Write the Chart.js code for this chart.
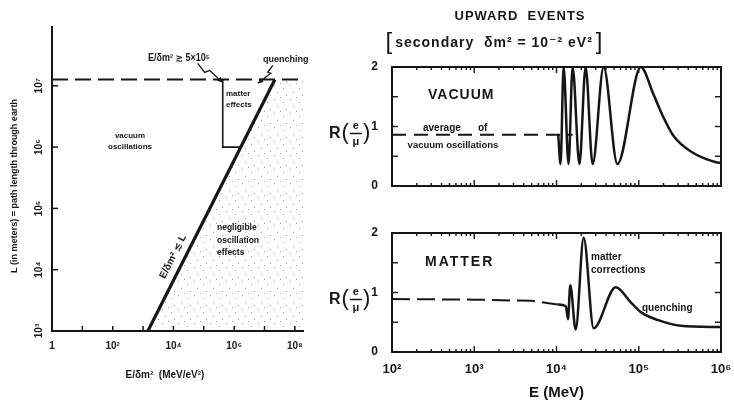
<!DOCTYPE html>
<html>
<head>
<meta charset="utf-8">
<script src="https://cdn.jsdelivr.net/npm/chart.js@4.4.0/dist/chart.umd.min.js"></script>
<style>
  body { margin: 0; background: #fff; }
  #wrap { position: relative; width: 734px; height: 406px; }
  canvas { position: absolute; left: 0; top: 0; }
</style>
</head>
<body>
<div id="wrap">
  <canvas id="leftChart" width="734" height="406"></canvas>
  <canvas id="vacuumChart" width="734" height="406"></canvas>
  <canvas id="matterChart" width="734" height="406"></canvas>
</div>
<script>
// Left panel: L vs E/dm2
const leftXTicks = [1, 1e2, 1e4, 1e6, 1e8];
const leftXLabels = ["1", "10²", "10⁴", "10⁶", "10⁸"];
const leftYTicks = [1e3, 1e4, 1e5, 1e6, 1e7];
const leftYLabels = ["10³", "10⁴", "10⁵", "10⁶", "10⁷"];
const earthE = [1, 1.85e8];
const earthL = [1.27e7, 1.27e7];
const limitE = [1.44e3, 2.2e7];
const limitL = [1e3, 1.27e7];
const boxE = [4.2e5, 4.2e5, 1.52e6];
const boxL = [1.27e7, 1e6, 1e6];
const shadeE = [1.44e3, 2.2e7, 1.85e8];
const shadeL = [1e3, 1.27e7, 1.27e7];

// Right panels: R(e/mu) vs E
const energyTicks = [1e2, 1e3, 1e4, 1e5, 1e6];
const energyLabels = ["10²", "10³", "10⁴", "10⁵", "10⁶"];
const ratioTicks = [0, 1, 2];
const ratioLabels = ["0", "1", "2"];
const ratioMarks = [0, 0.5, 1, 1.5, 2];

const vacAvgE = [1e2, 1.57e4];
const vacAvgR = [0.86, 0.86];
const vacE = [1.05e4, 1.12e4, 1.22e4, 1.40e4, 1.57e4, 1.90e4, 2.26e4, 2.75e4, 3.74e4, 5.5e4, 1.06e5, 1.51e5, 2.0e5, 2.68e5, 4.3e5, 8.7e5, 1e6];
const vacR = [0.86, 0.37, 2.0, 0.37, 2.0, 0.37, 2.0, 0.37, 2.0, 0.37, 2.0, 1.54, 1.15, 0.83, 0.58, 0.40, 0.39];

const matDashE = [1e2, 1e3, 5e3, 1.03e4];
const matDashR = [0.89, 0.88, 0.86, 0.80];
const matE = [1.03e4, 1.3e4, 1.38e4, 1.47e4, 1.71e4, 2.14e4, 2.83e4, 5.25e4, 7.96e4, 1.06e5, 1.69e5, 3.25e5, 1e6];
const matR = [0.80, 0.77, 0.55, 1.12, 0.38, 1.92, 0.40, 1.09, 0.84, 0.67, 0.54, 0.44, 0.42];

const INK = "#161616";
const FONT = "'Liberation Sans', 'DejaVu Sans', Arial, sans-serif";
Chart.defaults.font.family = FONT;
Chart.defaults.font.weight = "bold";
Chart.defaults.color = INK;

function xy(xs, ys) {
  return xs.map((x, i) => ({ x: x, y: ys[i] }));
}

function txt(ctx, s, x, y, size, align, maxW) {
  ctx.font = "bold " + size + "px " + FONT;
  ctx.textAlign = align || "left";
  ctx.textBaseline = "middle";
  if (maxW) ctx.fillText(s, x, y, maxW);
  else ctx.fillText(s, x, y);
}

function seg(ctx, x1, y1, x2, y2) {
  ctx.beginPath();
  ctx.moveTo(x1, y1);
  ctx.lineTo(x2, y2);
  ctx.stroke();
}

// zig-zag pointer ending in a small arrow head
function bolt(ctx, pts) {
  ctx.beginPath();
  ctx.moveTo(pts[0][0], pts[0][1]);
  for (let i = 1; i < pts.length; i++) ctx.lineTo(pts[i][0], pts[i][1]);
  ctx.stroke();
  const a = pts[pts.length - 2], b = pts[pts.length - 1];
  const ang = Math.atan2(b[1] - a[1], b[0] - a[0]);
  ctx.beginPath();
  ctx.moveTo(b[0], b[1]);
  ctx.lineTo(b[0] - 6 * Math.cos(ang - 0.45), b[1] - 6 * Math.sin(ang - 0.45));
  ctx.lineTo(b[0] - 6 * Math.cos(ang + 0.45), b[1] - 6 * Math.sin(ang + 0.45));
  ctx.closePath();
  ctx.fill();
}

// sparse dots, like the shaded region of the print
function stipple() {
  const c = document.createElement("canvas");
  c.width = 16; c.height = 14;
  const g = c.getContext("2d");
  g.fillStyle = "rgba(40,40,40,0.45)";
  [[2, 1], [11, 4], [5, 8], [14, 11], [8, 13]].forEach(p => g.fillRect(p[0], p[1], 1, 1));
  return g.createPattern(c, "repeat");
}

const leftDecor = {
  id: "leftDecor",
  afterDraw(chart) {
    const ctx = chart.ctx, a = chart.chartArea;
    const xs = chart.scales.x, ys = chart.scales.y;
    ctx.save();
    ctx.strokeStyle = INK;
    ctx.fillStyle = INK;
    ctx.lineWidth = 1.5;
    leftYTicks.forEach(v => {
      const py = ys.getPixelForValue(v);
      seg(ctx, a.left, py, a.left + 6, py);
    });
    for (let k = 0; k <= 8; k++) {
      const px = xs.getPixelForValue(Math.pow(10, k));
      seg(ctx, px, a.bottom, px, a.bottom - 5);
    }

    // axis titles
    txt(ctx, "E/δm²  (MeV/eV²)", 165, 375, 10, "center");
    ctx.save();
    ctx.translate(15, 186);
    ctx.rotate(-Math.PI / 2);
    txt(ctx, "L (in meters) = path length through earth", 0, 0, 9, "center");
    ctx.restore();

    // region labels
    txt(ctx, "vacuum", 130, 136, 8, "center");
    txt(ctx, "oscillations", 130, 147, 8, "center");
    txt(ctx, "matter", 226, 94, 8, "left");
    txt(ctx, "effects", 226, 105, 8, "left");
    txt(ctx, "negligible", 217, 228, 8.5, "left");
    txt(ctx, "oscillation", 217, 241, 8.5, "left");
    txt(ctx, "effects", 217, 253, 8.5, "left");
    txt(ctx, "E/δm² ≳ 5×10⁵", 148, 58, 10, "left", 62);
    txt(ctx, "quenching", 263, 60, 9, "left");

    // pointers
    ctx.lineWidth = 1.3;
    const t1 = [xs.getPixelForValue(boxE[0]), ys.getPixelForValue(earthL[0]) + 3];
    bolt(ctx, [[t1[0] - 25, t1[1] - 19], [t1[0] - 18, t1[1] - 10], [t1[0] - 13, t1[1] - 12], t1]);
    const t2 = [xs.getPixelForValue(6e6), ys.getPixelForValue(1.1e7)];
    bolt(ctx, [[t2[0] + 15, t2[1] - 18], [t2[0] + 10, t2[1] - 11], [t2[0] + 13, t2[1] - 10], t2]);

    // label along the E/dm2 = L line
    const p1 = [xs.getPixelForValue(limitE[0]), ys.getPixelForValue(limitL[0])];
    const p2 = [xs.getPixelForValue(limitE[1]), ys.getPixelForValue(limitL[1])];
    const ang = Math.atan2(p2[1] - p1[1], p2[0] - p1[0]);
    const yl = ys.getPixelForValue(1.35e4);
    const f = (yl - p1[1]) / (p2[1] - p1[1]);
    const xl = p1[0] + f * (p2[0] - p1[0]);
    ctx.save();
    ctx.translate(xl - 11 * Math.abs(Math.sin(ang)), yl - 11 * Math.abs(Math.cos(ang)));
    ctx.rotate(ang);
    txt(ctx, "E/δm² ≲ L", 0, 0, 10, "center");
    ctx.restore();
    ctx.restore();
  }
};

new Chart(document.getElementById("leftChart"), {
  type: "line",
  data: {
    datasets: [
      { data: xy(limitE, limitL), borderColor: INK, borderWidth: 3.2, pointRadius: 0 },
      { data: xy(boxE, boxL), borderColor: INK, borderWidth: 1.6, pointRadius: 0 },
      { data: xy(earthE, earthL), borderColor: INK, borderWidth: 2, borderDash: [16, 7], pointRadius: 0 },
      { data: xy(shadeE, shadeL), borderWidth: 0, pointRadius: 0, fill: "start", backgroundColor: stipple() }
    ]
  },
  options: {
    responsive: false,
    animation: false,
    devicePixelRatio: 1,
    layout: { padding: { left: 0, top: 27, right: 431, bottom: 0 } },
    plugins: { legend: { display: false }, tooltip: { enabled: false } },
    scales: {
      x: {
        type: "logarithmic", min: 1, max: 1.85e8,
        grid: { display: false },
        border: { color: INK, width: 2 },
        afterBuildTicks: s => { s.ticks = leftXTicks.map(v => ({ value: v })); },
        afterFit: s => { s.height = 75; s.paddingLeft = 0; s.paddingRight = 0; },
        ticks: { callback: (v, i) => leftXLabels[i], font: { size: 10 }, padding: 1, maxRotation: 0, autoSkip: false }
      },
      y: {
        type: "logarithmic", min: 1e3, max: 9.1e7,
        grid: { display: false },
        border: { color: INK, width: 2 },
        afterBuildTicks: s => { s.ticks = leftYTicks.map(v => ({ value: v })); },
        afterFit: s => { s.width = 52; },
        ticks: { callback: (v, i) => leftYLabels[i], font: { size: 10 }, minRotation: 90, maxRotation: 90, crossAlign: "center", padding: -3, autoSkip: false }
      }
    }
  },
  plugins: [leftDecor]
});

function rightDecor(extra) {
  return {
    id: "rightDecor",
    afterDraw(chart) {
      const ctx = chart.ctx, a = chart.chartArea;
      const xs = chart.scales.x, ys = chart.scales.y;
      ctx.save();
      ctx.strokeStyle = INK;
      ctx.fillStyle = INK;
      ctx.lineWidth = 2;
      ctx.strokeRect(a.left, a.top, a.right - a.left, a.bottom - a.top);
      ctx.lineWidth = 1.4;
      for (let k = 2; k <= 6; k++) {
        for (let m = 1; m < 10; m++) {
          if (k === 6 && m > 1) break;
          const px = xs.getPixelForValue(m * Math.pow(10, k));
          const len = m === 1 ? 6 : 3;
          seg(ctx, px, a.bottom, px, a.bottom - len);
          seg(ctx, px, a.top, px, a.top + len);
        }
      }
      ratioMarks.forEach(v => {
        const py = ys.getPixelForValue(v);
        seg(ctx, a.left, py, a.left + 6, py);
        seg(ctx, a.right, py, a.right - 6, py);
      });

      // R(e/mu)
      const cy = ys.getPixelForValue(1) + 7;
      let x = 329;
      txt(ctx, "R", x, cy, 16, "left");
      x += ctx.measureText("R").width + 1;
      ctx.font = "22px " + FONT;
      ctx.textAlign = "left";
      ctx.fillText("(", x, cy - 1);
      x += ctx.measureText("(").width + 1;
      txt(ctx, "e", x + 6, cy - 8, 11, "center");
      txt(ctx, "μ", x + 6, cy + 8, 11, "center");
      ctx.lineWidth = 1.5;
      seg(ctx, x, cy, x + 12, cy);
      x += 13;
      ctx.font = "22px " + FONT;
      ctx.textAlign = "left";
      ctx.fillText(")", x, cy - 1);

      extra(ctx);
      ctx.restore();
    }
  };
}

function rightOptions(top, bottomPad, xHeight, showX) {
  return {
    responsive: false,
    animation: false,
    devicePixelRatio: 1,
    layout: { padding: { left: 330, top: top, right: 13, bottom: bottomPad } },
    plugins: { legend: { display: false }, tooltip: { enabled: false } },
    scales: {
      x: {
        type: "logarithmic", min: 1e2, max: 1e6,
        grid: { display: false },
        border: { display: false },
        afterBuildTicks: s => { s.ticks = energyTicks.map(v => ({ value: v })); },
        afterFit: s => { s.height = xHeight; s.paddingLeft = 0; s.paddingRight = 0; },
        ticks: { display: showX, callback: (v, i) => energyLabels[i], font: { size: 13 }, padding: 2, maxRotation: 0, autoSkip: false },
        title: { display: showX, text: "E (MeV)", font: { size: 15 }, padding: { top: 0, bottom: 4 } }
      },
      y: {
        min: 0, max: 2,
        grid: { display: false },
        border: { display: false },
        afterBuildTicks: s => { s.ticks = ratioTicks.map(v => ({ value: v })); },
        afterFit: s => { s.width = 62; },
        ticks: { callback: (v, i) => ratioLabels[i], font: { size: 12 }, padding: 6 }
      }
    }
  };
}

const curve = { borderColor: INK, borderWidth: 2.5, pointRadius: 0, cubicInterpolationMode: "monotone", fill: false };

new Chart(document.getElementById("vacuumChart"), {
  type: "line",
  data: {
    datasets: [
      Object.assign({ data: xy(vacE, vacR) }, curve),
      { data: xy(vacAvgE, vacAvgR), borderColor: INK, borderWidth: 2, borderDash: [14, 8], pointRadius: 0 }
    ]
  },
  options: rightOptions(67, 220, 0, false),
  plugins: [rightDecor(ctx => {
    if ("letterSpacing" in ctx) ctx.letterSpacing = "1px";
    txt(ctx, "UPWARD  EVENTS", 520, 16, 13, "center");
    ctx.font = "bold 14px " + FONT;
    const sub = "secondary  δm² = 10⁻² eV²";
    const w = ctx.measureText(sub).width;
    txt(ctx, sub, 494, 43, 14, "center");
    if ("letterSpacing" in ctx) ctx.letterSpacing = "0px";
    ctx.font = "24px " + FONT;
    ctx.textAlign = "right";
    ctx.fillText("[", 494 - w / 2 - 3, 42);
    ctx.textAlign = "left";
    ctx.fillText("]", 494 + w / 2 + 3, 42);
    if ("letterSpacing" in ctx) ctx.letterSpacing = "1px";
    txt(ctx, "VACUUM", 428, 95, 14, "left");
    if ("letterSpacing" in ctx) ctx.letterSpacing = "0px";
    txt(ctx, "average", 423, 128, 10, "left");
    txt(ctx, "of", 478, 128, 10, "left");
    txt(ctx, "vacuum oscillations", 453, 145, 9.5, "center");
  })]
});

new Chart(document.getElementById("matterChart"), {
  type: "line",
  data: {
    datasets: [
      Object.assign({ data: xy(matE, matR) }, curve),
      { data: xy(matDashE, matDashR), borderColor: INK, borderWidth: 2, borderDash: [18, 7], pointRadius: 0 }
    ]
  },
  options: rightOptions(233, 0, 54, true),
  plugins: [rightDecor(ctx => {
    if ("letterSpacing" in ctx) ctx.letterSpacing = "2px";
    txt(ctx, "MATTER", 425, 262, 14, "left");
    if ("letterSpacing" in ctx) ctx.letterSpacing = "0px";
    txt(ctx, "matter", 591, 257, 10, "left");
    txt(ctx, "corrections", 591, 270, 10, "left");
    txt(ctx, "quenching", 642, 308, 10, "left");
  })]
});
</script>
</body>
</html>
